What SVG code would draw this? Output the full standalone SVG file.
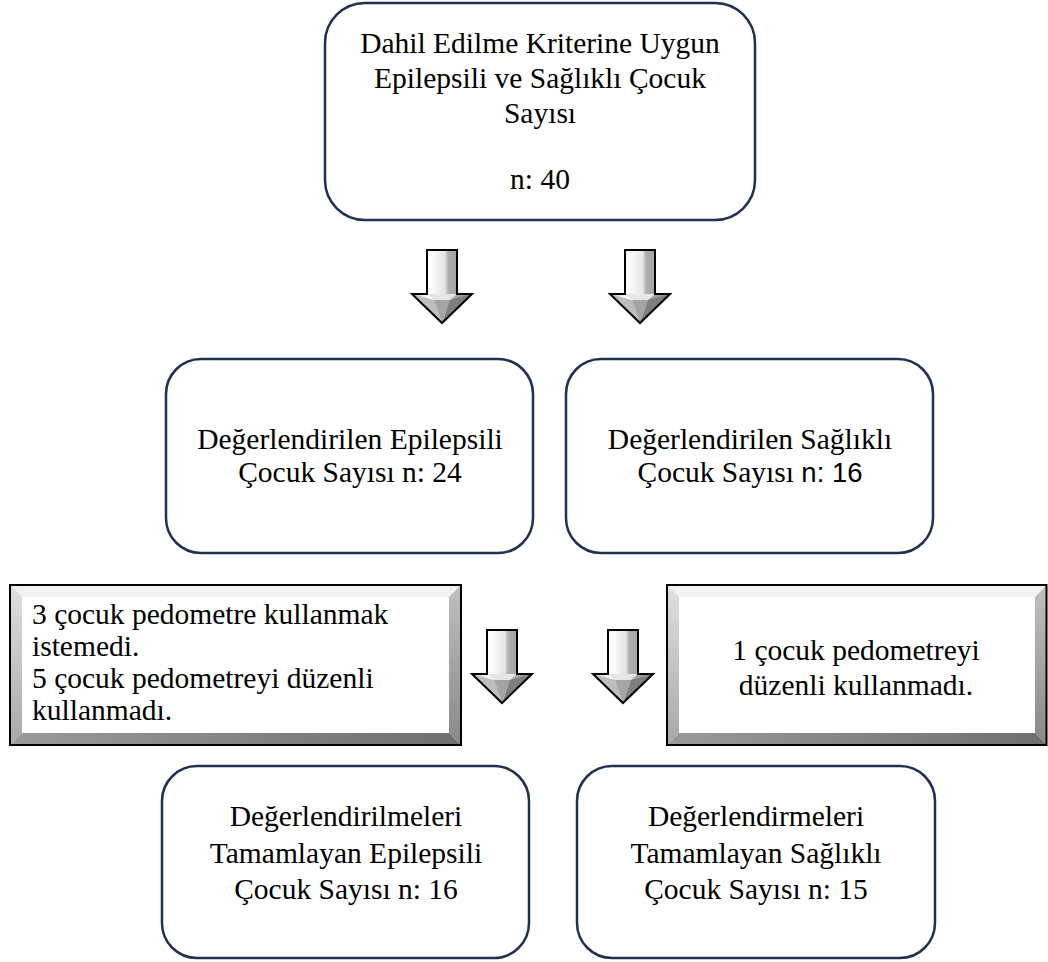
<svg xmlns="http://www.w3.org/2000/svg" width="1048" height="962" viewBox="0 0 1048 962">
<style>
.box{fill:#fff;stroke:#1f3050;stroke-width:2.5}
.t{font-family:"Liberation Serif","Times New Roman",serif;font-size:29.5px;fill:#000}
.c{text-anchor:middle}
.s{font-family:"Liberation Sans",Arial,sans-serif;font-size:27.5px}
.edge{fill:none;stroke:#000;stroke-width:2}
</style>
<defs>
<linearGradient id="shaft" x1="0" y1="0" x2="1" y2="0">
<stop offset="0" stop-color="#c8c8c8"/>
<stop offset="0.3" stop-color="#ffffff"/>
<stop offset="0.55" stop-color="#e4e4e4"/>
<stop offset="0.6" stop-color="#b0b0b0"/>
<stop offset="1" stop-color="#8c8c8c"/>
</linearGradient>
<linearGradient id="bl" x1="0" y1="0" x2="0" y2="1">
<stop offset="0" stop-color="#e0e0e0"/>
<stop offset="1" stop-color="#a8a8a8"/>
</linearGradient>
<linearGradient id="br" x1="0" y1="0" x2="0" y2="1">
<stop offset="0" stop-color="#c0c0c0"/>
<stop offset="1" stop-color="#888888"/>
</linearGradient>
<linearGradient id="bb" x1="0" y1="0" x2="1" y2="0">
<stop offset="0" stop-color="#9a9a9a"/>
<stop offset="1" stop-color="#6e6e6e"/>
</linearGradient>
<g id="arrow">
<path d="M-15,0 L15,0 L15,44 L30,44 L0,73 L-30,44 L-15,44 Z" fill="url(#shaft)"/>
<path d="M-30,44 L-8,50 L0,73 Z" fill="#bdbdbd"/>
<path d="M30,44 L8,50 L0,73 Z" fill="#7e7e7e"/>
<path d="M-8,50 L8,50 L0,73 Z" fill="#a4a4a4"/>
<path d="M-15,44 L-8,50 L8,50 L15,44 Z" fill="#e6e6e6"/>
<path d="M-15,0 L15,0 L15,44 L30,44 L0,73 L-30,44 L-15,44 Z" fill="none" stroke="#000" stroke-width="2" stroke-linejoin="miter"/>
</g>
</defs>
<rect width="1048" height="962" fill="#fff"/>

<g id="connectors">
<use href="#arrow" transform="translate(442,250)"/>
<use href="#arrow" transform="translate(640,250)"/>
<use href="#arrow" transform="translate(502,630)"/>
<use href="#arrow" transform="translate(623,630)"/>
</g>

<g id="node-top">
<rect class="box" x="325" y="3" width="430" height="217" rx="40"/>
<text class="t c" x="540" y="53">Dahil Edilme Kriterine Uygun</text>
<text class="t c" x="540" y="88">Epilepsili ve Sağlıklı Çocuk</text>
<text class="t c" x="540" y="123">Sayısı</text>
<text class="t c" x="540" y="189">n: 40</text>
</g>

<g id="node-epi">
<rect class="box" x="166" y="359" width="367" height="194" rx="35"/>
<text class="t c" x="350" y="449">Değerlendirilen Epilepsili</text>
<text class="t c" x="350" y="482">Çocuk Sayısı n: 24</text>
</g>

<g id="node-healthy">
<rect class="box" x="566" y="359" width="367" height="194" rx="35"/>
<text class="t c" x="750" y="449">Değerlendirilen Sağlıklı</text>
<text class="t c" x="750" y="482">Çocuk Sayısı <tspan class="s">n: 16</tspan></text>
</g>

<g id="node-excl-epi">
<rect x="10" y="585" width="451" height="160" fill="#fff"/>
<path d="M10,585 L461,585 L449,597 L22,597 Z" fill="#f2f2f2"/>
<path d="M10,585 L22,597 L22,733 L10,745 Z" fill="url(#bl)"/>
<path d="M461,585 L449,597 L449,733 L461,745 Z" fill="url(#br)"/>
<path d="M10,745 L22,733 L449,733 L461,745 Z" fill="url(#bb)"/>
<rect class="edge" x="10" y="585" width="451" height="160"/>
<text class="t" x="32" y="624">3 çocuk pedometre kullanmak</text>
<text class="t" x="32" y="656">istemedi.</text>
<text class="t" x="32" y="688">5 çocuk pedometreyi düzenli</text>
<text class="t" x="32" y="720">kullanmadı.</text>
</g>

<g id="node-excl-healthy">
<rect x="667" y="585" width="380" height="160" fill="#fff"/>
<path d="M667,585 L1047,585 L1035,597 L679,597 Z" fill="#f2f2f2"/>
<path d="M667,585 L679,597 L679,733 L667,745 Z" fill="url(#bl)"/>
<path d="M1047,585 L1035,597 L1035,733 L1047,745 Z" fill="url(#br)"/>
<path d="M667,745 L679,733 L1035,733 L1047,745 Z" fill="url(#bb)"/>
<rect class="edge" x="667" y="585" width="379.5" height="160"/>
<text class="t c" x="856" y="660">1 çocuk pedometreyi</text>
<text class="t c" x="856" y="695">düzenli kullanmadı.</text>
</g>

<g id="node-final-epi">
<rect class="box" x="162" y="766" width="367" height="192" rx="35"/>
<text class="t c" x="346" y="826">Değerlendirilmeleri</text>
<text class="t c" x="346" y="863">Tamamlayan Epilepsili</text>
<text class="t c" x="346" y="899">Çocuk Sayısı n: 16</text>
</g>

<g id="node-final-healthy">
<rect class="box" x="577" y="766" width="358" height="192" rx="35"/>
<text class="t c" x="756" y="826">Değerlendirmeleri</text>
<text class="t c" x="756" y="863">Tamamlayan Sağlıklı</text>
<text class="t c" x="756" y="899">Çocuk Sayısı n: 15</text>
</g>
</svg>
